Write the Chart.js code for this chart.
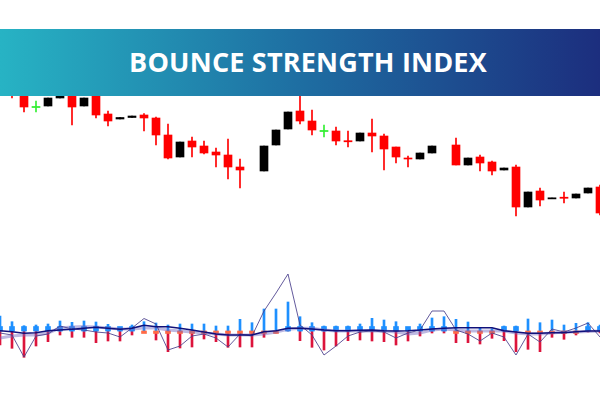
<!DOCTYPE html>
<html>
<head>
<meta charset="utf-8">
<script src="https://cdn.jsdelivr.net/npm/chart.js@4.4.1/dist/chart.umd.min.js"></script>
<style>
  html, body { margin: 0; padding: 0; background: #ffffff; }
  #wrap { position: relative; width: 600px; height: 400px; overflow: hidden; }
  #c { position: absolute; left: 0; top: 0; }
  #banner {
    position: absolute; left: 0; top: 29px; width: 600px; height: 67px; box-sizing: border-box; padding-left: 16px;
    background: linear-gradient(90deg, #27b3c4 0%, #1e6ea2 50%, #1c2e7e 100%);
    color: #ffffff; font-family: "Open Sans", "DejaVu Sans", sans-serif; font-weight: 700;
    font-size: 27px; line-height: 65px; text-align: center; letter-spacing: 0.2px;
  }
</style>
</head>
<body>
<div id="wrap">
  <canvas id="c" width="600" height="400"></canvas>
  <div id="banner">BOUNCE STRENGTH INDEX</div>
</div>
<script>
// ---- Price candles (null = no bar) ----
const bars = ["1","2","3","4","5","6","7","8","9","10","11","12","13","14","15","16","17","18","19","20","21","22","23","24","25","26","27","28","29","30","31","32","33","34","35","36","37","38","39","40","41","42","43","44","45","46","47","48","49","50","51"];
const openP  = [222,218,214,193,194,202,214,194,208,186,181,182.5,185,182,165,143,159,154,148,145,133,null,129,155,171,189,179,169,169,159,159,167,164,153,142,141,147,null,155,135,143,138,130,133,93,109,101.3,102.5,102,107,113];
const highP  = [228,222,220,199,202,216,218,202,210,189,182.5,184,186.5,183,176,158,163,159,152,161,141,null,154,170,188,215,190,175,173,169,167,181,166,153,144,147,154,null,162,142,145,139,132,135,108,112,102,108,106,112,115];
const lowP   = [207,202,188,188,194,202,175,194,182,174,181,182.5,169,155,141,143,143,146,133,121,112,null,129,155,171,176,165,163,155,153,159,148,130,137,133,141,147,null,135,135,129,125,130,84,93,94,101.3,97,102,107,85];
const closeP = [210,206,193,193,202,212,193,202,185,179,182.5,184,182,165,142,158,153,147,145,133,130,null,154,170,188,179,170,169,159,158.5,167,164,151,143,141,147,154,null,135,142,137,129,132,93,108,100,102,102,106,112,87];

// ---- Bounce strength indicator ----
const bullPower = [15,9.3,5.3,6,7,10,8.7,10,9,6.7,3.3,6,9.3,8,6,7,7,7,5,5,11.7,8.3,22,22,29,14.3,8.3,5,5,5,7,12.7,11,9.3,3.3,7,13,14.3,11.7,9,3.7,2.3,5,5,12,8.3,11,6,7.7,8.3,6];
const bearPower = [-14,-17.3,-26.3,-15,-10.7,-4,-6.3,-6.3,-11.7,-10,-10,-4,-1,-9,-20.7,-17,-16,-8,-10.7,-16.3,-16,-16,-6.3,-2,0,-9.7,-16.3,-19,-15,-9.7,-9,-10,-10.7,-14,-10,-5,-2,-2,-11.7,-11.7,-13,-7.3,-9.7,-20.7,-18.3,-20.7,-6.3,-8.3,-4,-1,-2];
const signal    = [4.5,4.5,4.5,4.5,4.5,4.5,4.5,4.5,4.5,4.5,4.5,4.5,-2.5,-2.5,-2.5,-2.5,-2.5,-2.5,-2.5,-2.5,-2.5,-2.5,-2.5,-2.5,4.5,4.5,4.5,4.5,4.5,4.5,4.5,4.5,4.5,4.5,4.5,4.5,4.5,4.5,-2.5,-2.5,-2.5,-2.5,4.5,4.5,-2.5,-2.5,-2.5,-2.5,-2.5,4.5,4.5];
const strength  = [-2,-4,-26,-5,-3,5,2,1,-1,-2,-6,3,12.5,7,-19,-15,-5,-3,-7,-16,-3,-5,20,38,57,6,-4,-24,-15,-5,-1,0,-1,-7,-2,1,20,20,1,-3,-10,-2,-6,-24,-3,-11,2,-1,3,8,-6];
const fastAvg   = [0.3,-0.7,-2.3,-1.7,0.3,1,1.7,2.7,3.7,2.7,1.7,2.7,5.7,4.3,4.3,2.7,1,-1,-3,-4,-4,-4,-0.7,0.3,2.7,2.7,2,1,0.3,0.3,0.7,1,0.3,0,0.3,1,2,2.7,3.3,3.3,3.3,3.3,0.3,-1,-2.3,-2.3,-1.7,-1.7,-0.7,0,0];
const slowAvg   = [-7,-5,-4,-4,-2,3,4,4.5,4,3,2,2,3,3,1,0,-1,-2,-3,-4,-4,-4,-3,-1,1.7,2.7,2.7,1,0,0,0,0,0,-1,-3,-2,1,2,1,0,0,0,0,-2,-3,-3,-2,-1,-1,-0.5,0];

// ---- derived drawing data ----
const RED = '#ff0000', BLACK = '#000000', GREEN = '#33ee33';
const candleColor = openP.map((o, i) => o === null ? 'rgba(0,0,0,0)' : (closeP[i] < o ? RED : (closeP[i] > o ? BLACK : GREEN)));
const bodies = openP.map((o, i) => {
  if (o === null) return null;
  const c = closeP[i];
  const lo = Math.min(o, c), hi = Math.max(o, c);
  if (hi - lo < 1) { const m = (lo + hi) / 2; return [m - 0.55, m + 0.55]; }
  return [lo, hi];
});
const wicks = highP.map((h, i) => h === null ? null : [lowP[i], h]);

new Chart(document.getElementById('c'), {
  type: 'bar',
  data: {
    labels: bars,
    datasets: [
      { type: 'line', data: strength, yAxisID: 'yi', borderColor: 'rgba(72,61,139,0.85)', borderWidth: 1, pointRadius: 0, tension: 0, order: 1 },
      { type: 'line', data: slowAvg, yAxisID: 'yi', borderColor: 'rgba(110,100,190,0.45)', borderWidth: 3, pointRadius: 0, tension: 0, order: 2 },
      { type: 'line', data: fastAvg, yAxisID: 'yi', borderColor: '#10107a', borderWidth: 1.5, pointRadius: 0, tension: 0, order: 0 },
      { data: signal, yAxisID: 'yi', backgroundColor: signal.map(v => v > 0 ? '#1e8fff' : '#ff6a45'), barThickness: 5, grouped: false, order: 3 },
      { data: bullPower, yAxisID: 'yi', backgroundColor: '#1e90ff', barThickness: 2, grouped: false, order: 4 },
      { data: bearPower, yAxisID: 'yi', backgroundColor: '#dc143c', barThickness: 2, grouped: false, order: 4 },
      { data: bodies, yAxisID: 'yp', backgroundColor: candleColor, barThickness: 8, grouped: false, order: 5 },
      { data: wicks, yAxisID: 'yp', backgroundColor: candleColor, barThickness: 1, grouped: false, order: 6 }
    ]
  },
  options: {
    responsive: false,
    animation: false,
    devicePixelRatio: 1,
    layout: { padding: 0 },
    plugins: { legend: { display: false }, tooltip: { enabled: false }, title: { display: false } },
    scales: {
      x: { type: 'category', offset: false, display: false, grid: { display: false } },
      yp: { type: 'linear', position: 'left', min: -100, max: 300, display: false },
      yi: { type: 'linear', position: 'right', min: -69, max: 331, display: false }
    }
  }
});
</script>
</body>
</html>
